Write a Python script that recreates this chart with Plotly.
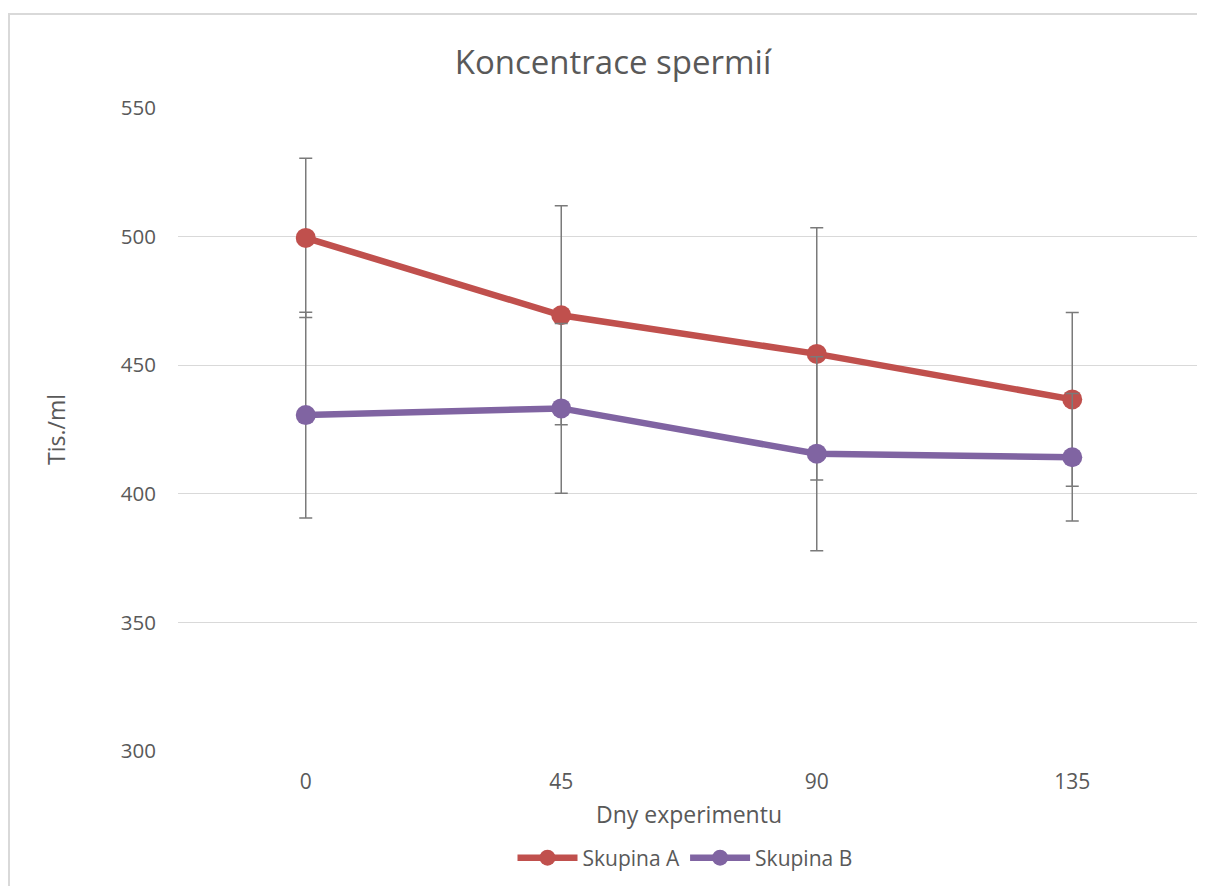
import plotly.graph_objects as go

days = ["0", "45", "90", "135"]
skupina_a = [499.5, 469.4, 454.4, 436.7]
skupina_a_err = [31.0, 42.6, 49.0, 33.8]
skupina_b = [430.6, 433.2, 415.6, 414.2]
skupina_b_err = [40.0, 33.0, 37.7, 24.8]
y_ticks = [300, 350, 400, 450, 500, 550]

FONT = "Open Sans"
GREY = "#595959"

W, H = 1205, 886
L, R, T, B = 170, 13, 100, 143
PW, PH = W - L - R, H - T - B

fig = go.Figure()
fig.add_trace(go.Scatter(
    x=days, y=skupina_a, name="Skupina A", mode="lines+markers",
    line=dict(color="#c0504d", width=6.5),
    marker=dict(color="#c0504d", size=20),
    error_y=dict(type="data", array=skupina_a_err, visible=True,
                 color="#7a7a7a", thickness=1.5, width=6.5),
))
fig.add_trace(go.Scatter(
    x=days, y=skupina_b, name="Skupina B", mode="lines+markers",
    line=dict(color="#8064a2", width=6.5),
    marker=dict(color="#8064a2", size=20),
    error_y=dict(type="data", array=skupina_b_err, visible=True,
                 color="#7a7a7a", thickness=1.5, width=6.5),
))

fig.update_layout(
    width=W, height=H,
    margin=dict(l=L, r=R, t=T, b=B, autoexpand=False),
    paper_bgcolor="white", plot_bgcolor="white",
    font=dict(family=FONT, color=GREY, size=20),
    title=dict(text="Koncentrace spermií", x=605 / W, xref="container",
               xanchor="center",
               y=1 - 54 / H, yref="container", yanchor="middle",
               font=dict(family=FONT, size=33, color=GREY)),
    showlegend=True,
    legend=dict(orientation="h", x=(677 - L) / PW, xanchor="center",
                xref="paper",
                y=-(850 - 743) / PH, yanchor="middle",
                font=dict(size=21, color=GREY),
                itemwidth=60, tracegroupgap=0),
    xaxis=dict(type="category", range=[-0.5, 3.5], showgrid=False,
               showline=False, zeroline=False, automargin=False,
               ticks="outside", ticklen=12, tickcolor="white",
               tickfont=dict(size=21, color=GREY),
               title=dict(text="Dny experimentu", standoff=12,
                          font=dict(size=23, color=GREY))),
    yaxis=dict(range=[300, 550], tickvals=y_ticks, showgrid=True,
               gridcolor="#d9d9d9", gridwidth=1, zeroline=False,
               showline=False, automargin=False,
               ticks="outside", ticklen=17, tickcolor="white",
               tickfont=dict(size=20.5, color=GREY),
               title=dict(text="Tis./ml", standoff=48,
                          font=dict(size=23, color=GREY))),
)

# outer chart frame
fig.add_shape(type="rect", xref="paper", yref="paper",
              x0=(1 - L) / PW, x1=(1193 - L) / PW,
              y0=-(H + 10 - (H - B)) / PH, y1=((H - B) - 6) / PH,
              line=dict(color="#d9d9d9", width=2), fillcolor="rgba(0,0,0,0)",
              layer="below")

fig.write_html("out.html")
